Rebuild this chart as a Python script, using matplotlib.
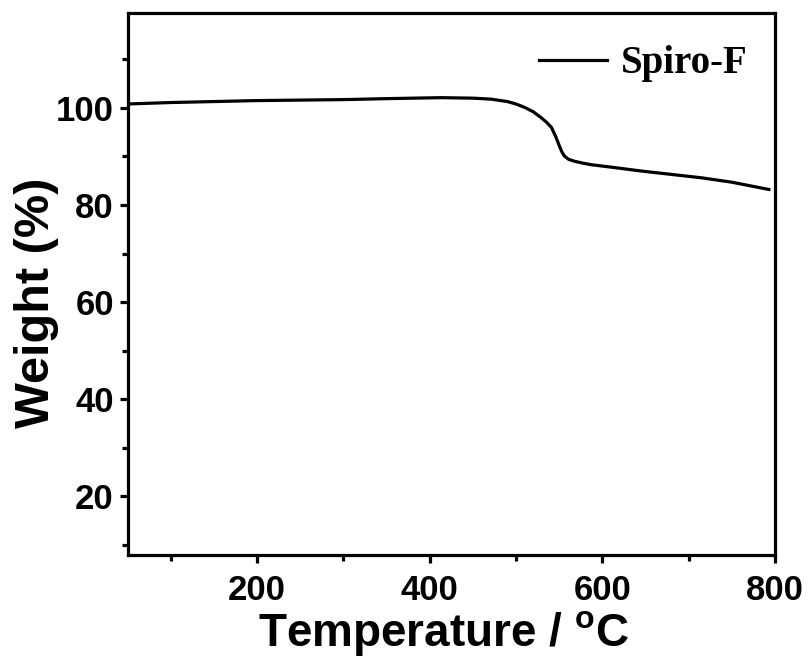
import numpy as np
import matplotlib.pyplot as plt

# DATA
temperature = [50, 100, 150, 200, 250, 300, 350, 413, 450, 471, 490, 500, 510,
               520, 529, 535, 541, 546, 550, 553, 556, 561, 568, 578, 587, 610,
               645, 680, 715, 750, 793]
weight = [100.8, 101.1, 101.3, 101.5, 101.6, 101.7, 101.9, 102.1, 102.0, 101.8,
          101.3, 100.8, 100.1, 99.2, 98.0, 97.1, 96.0, 94.1, 92.3, 91.0, 90.1,
          89.4, 89.0, 88.6, 88.3, 87.8, 87.0, 86.3, 85.6, 84.7, 83.2]
series_name = "Spiro-F"

x_ticks = [200, 400, 600, 800]
y_ticks = [20, 40, 60, 80, 100]

# FONTS
plt.rcParams['font.family'] = 'Liberation Sans'
plt.rcParams['font.weight'] = 'bold'
plt.rcParams['mathtext.fontset'] = 'custom'
plt.rcParams['mathtext.bf'] = 'Liberation Sans:bold'
plt.rcParams['mathtext.rm'] = 'Liberation Sans:bold'
plt.rcParams['mathtext.default'] = 'bf'

fig = plt.figure(figsize=(8.08, 6.58), dpi=100)
ax = fig.add_axes([0.158, 0.157, 0.801, 0.823])

ax.plot(temperature, weight, color='black', lw=2.3, label=series_name)

ax.set_xlim(50, 800)
ax.set_ylim(8, 119.5)
ax.set_xticks(x_ticks)
ax.set_yticks(y_ticks)
ax.set_xticks([100, 300, 500, 700], minor=True)
ax.set_yticks([10, 30, 50, 70, 90, 110], minor=True)

ax.tick_params(which='major', direction='out', length=6, width=2.3,
               labelsize=25, pad=4)
ax.tick_params(axis='x', which='major', pad=8)
ax.tick_params(which='minor', direction='out', length=4, width=2.3)
for lab in ax.get_xticklabels() + ax.get_yticklabels():
    lab.set_fontweight('bold')
for sp in ax.spines.values():
    sp.set_linewidth(2.3)

ax.set_xlabel(r'Temperature / $^{\mathregular{o}}$C', fontsize=33,
              fontweight='bold', labelpad=1)
ax.set_ylabel('Weight (%)', fontsize=35, fontweight='bold', labelpad=-2)
ax.xaxis.label.set_x(0.488)
ax.yaxis.label.set_y(0.465)

leg = ax.legend(loc='upper right', bbox_to_anchor=(1.008, 1.0), frameon=False,
                handlelength=1.75, handletextpad=0.36, borderaxespad=0.43,
                prop={'family': 'Liberation Serif', 'weight': 'bold', 'size': 28})

fig.savefig('out.png', dpi=100)
